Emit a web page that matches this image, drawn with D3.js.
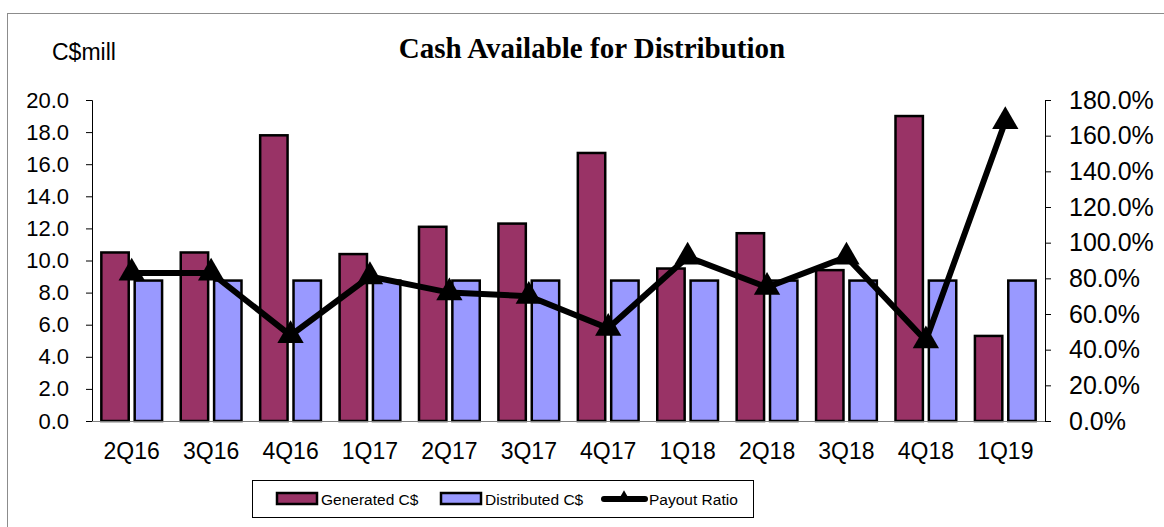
<!DOCTYPE html>
<html>
<head>
<meta charset="utf-8">
<script src="https://cdnjs.cloudflare.com/ajax/libs/d3/7.8.5/d3.min.js"></script>
<style>
  body { margin: 0; background: #fff; }
  svg { display: block; font-family: "Liberation Sans", Arial, sans-serif; }
</style>
</head>
<body>
<svg id="chart" width="1164" height="527"></svg>
<script>
// quarters
var quarters = ["2Q16","3Q16","4Q16","1Q17","2Q17","3Q17","4Q17","1Q18","2Q18","3Q18","4Q18","1Q19"];
// C$ millions
var generated = [10.5, 10.5, 17.8, 10.4, 12.1, 12.3, 16.7, 9.5, 11.7, 9.4, 19.0, 5.3];
var distributed = [8.75, 8.75, 8.75, 8.75, 8.75, 8.75, 8.75, 8.75, 8.75, 8.75, 8.75, 8.75];
// payout ratio, percent
var payout = [83, 83, 48, 81, 72, 70, 52, 92, 75, 92, 45, 168];

var leftTicks = [0,2,4,6,8,10,12,14,16,18,20];
var rightTicks = [0,20,40,60,80,100,120,140,160,180];

var svg = d3.select("#chart");

var plotLeft = 92, plotRight = 1045, plotTop = 100, plotBottom = 421;

// outer frame
svg.append("rect")
   .attr("x", 7.5).attr("y", 13.5)
   .attr("width", 1200).attr("height", 600)
   .attr("fill", "none").attr("stroke", "#8c8c8c");

var x = d3.scaleBand().domain(quarters).range([plotLeft, plotRight]);
var yL = d3.scaleLinear().domain([0, 20]).range([plotBottom, plotTop]);
var yR = d3.scaleLinear().domain([0, 180]).range([plotBottom, plotTop]);

var bw = x.bandwidth() * 0.345,
    gap = x.bandwidth() * 0.075;

// title
svg.append("text")
   .attr("x", 592).attr("y", 58)
   .attr("text-anchor", "middle")
   .style("font-family", "'Liberation Serif', 'Times New Roman', serif")
   .style("font-weight", "bold")
   .style("font-size", "29px")
   .text("Cash Available for Distribution");

svg.append("text")
   .attr("x", 52).attr("y", 60)
   .style("font-size", "23px")
   .text("C$mill");

// left axis
var axL = svg.append("g")
   .attr("transform", "translate(" + plotLeft + ",0)")
   .call(d3.axisLeft(yL).tickValues(leftTicks).tickFormat(d3.format(".1f")).tickSizeOuter(0).tickSize(6).tickPadding(17));
axL.selectAll("text").style("font-size", "22px").style("fill", "#000");
axL.selectAll("line, path").attr("stroke", "#000");

// right axis
var axR = svg.append("g")
   .attr("transform", "translate(" + plotRight + ",0)")
   .call(d3.axisRight(yR).tickValues(rightTicks).tickFormat(function(d){ return d.toFixed(1) + "%"; }).tickSizeOuter(0).tickSize(6).tickPadding(18));
axR.selectAll("text").style("font-size", "25px").style("fill", "#000");
axR.selectAll("line, path").attr("stroke", "#000");

// bars
svg.append("g").selectAll("rect")
   .data(generated)
   .join("rect")
   .attr("x", function(d, i){ return x(quarters[i]) + x.bandwidth()/2 - gap/2 - bw; })
   .attr("y", function(d){ return yL(d); })
   .attr("width", bw)
   .attr("height", function(d){ return yL(0) - yL(d); })
   .attr("fill", "#993366")
   .attr("stroke", "#000").attr("stroke-width", 2.5);

svg.append("g").selectAll("rect")
   .data(distributed)
   .join("rect")
   .attr("x", function(d, i){ return x(quarters[i]) + x.bandwidth()/2 + gap/2; })
   .attr("y", function(d){ return yL(d); })
   .attr("width", bw)
   .attr("height", function(d){ return yL(0) - yL(d); })
   .attr("fill", "#9999ff")
   .attr("stroke", "#000").attr("stroke-width", 2.5);

// baseline
svg.append("line")
   .attr("x1", plotLeft).attr("x2", plotRight)
   .attr("y1", plotBottom + 0.5).attr("y2", plotBottom + 0.5)
   .attr("stroke", "#808080").attr("stroke-width", 1);

// x labels
svg.append("g").selectAll("text")
   .data(quarters)
   .join("text")
   .attr("x", function(d){ return x(d) + x.bandwidth()/2; })
   .attr("y", 459)
   .attr("text-anchor", "middle")
   .style("font-size", "23px")
   .text(function(d){ return d; });

// payout line
var line = d3.line()
   .x(function(d, i){ return x(quarters[i]) + x.bandwidth()/2; })
   .y(function(d){ return yR(d); });

svg.append("path")
   .datum(payout)
   .attr("d", line)
   .attr("fill", "none")
   .attr("stroke", "#000")
   .attr("stroke-width", 6)
   .attr("stroke-linejoin", "miter");

var tri = d3.symbol().type(d3.symbolTriangle).size(300);
svg.append("g").selectAll("path")
   .data(payout)
   .join("path")
   .attr("d", tri)
   .attr("transform", function(d, i){ return "translate(" + (x(quarters[i]) + x.bandwidth()/2) + "," + yR(d) + ")"; })
   .attr("fill", "#000");

// legend
var lg = svg.append("g");
lg.append("rect")
  .attr("x", 252.5).attr("y", 480.5).attr("width", 501).attr("height", 37)
  .attr("fill", "#fff").attr("stroke", "#000");

var legendItems = [
  { label: "Generated C$", fill: "#993366", x: 277 },
  { label: "Distributed C$", fill: "#9999ff", x: 441 }
];
legendItems.forEach(function(it){
  lg.append("rect")
    .attr("x", it.x).attr("y", 493).attr("width", 40).attr("height", 11)
    .attr("fill", it.fill).attr("stroke", "#000").attr("stroke-width", 2.5);
  lg.append("text")
    .attr("x", it.x + 44).attr("y", 505)
    .style("font-size", "15.5px")
    .text(it.label);
});
lg.append("line")
  .attr("x1", 604).attr("x2", 645).attr("y1", 499).attr("y2", 499)
  .attr("stroke", "#000").attr("stroke-width", 6).attr("stroke-linecap", "round");
lg.append("path")
  .attr("d", d3.symbol().type(d3.symbolTriangle).size(60))
  .attr("transform", "translate(624,497)")
  .attr("fill", "#000");
lg.append("text")
  .attr("x", 649).attr("y", 505)
  .style("font-size", "15.5px")
  .text("Payout Ratio");
</script>
</body>
</html>
